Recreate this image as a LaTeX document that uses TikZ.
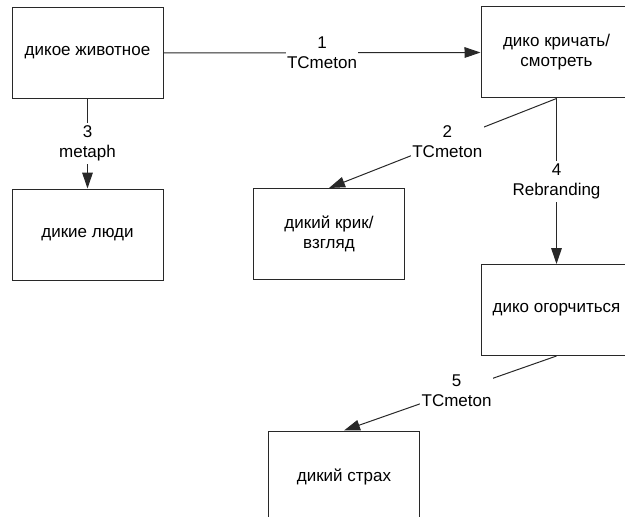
\documentclass[tikz,border=0pt]{standalone}
\usepackage{fontspec}
\setmainfont{Liberation Sans}
\usetikzlibrary{arrows.meta}
\definecolor{ink}{RGB}{40,40,40}
\begin{document}
\begin{tikzpicture}[x=0.75pt,y=-0.75pt,
  box/.style={draw=ink,line width=0.75pt,rectangle,minimum width=113.25pt,minimum height=68.25pt,
    align=center,font=\fontsize{12.75pt}{15pt}\selectfont,inner sep=2pt},
  conn/.style={draw=ink,line width=0.75pt,-{Triangle[length=12pt,width=8pt]}},
  lbl/.style={fill=white,align=center,font=\fontsize{12.75pt}{15pt}\selectfont,inner xsep=1pt,inner ysep=2pt}]
\useasboundingbox (0,0) rectangle (625,517);
% concepts
\node[box] (animal) at (87.5,53) {дикое животное};
\node[box] (shout)  at (556.5,52.5) {дико кричать/\\смотреть};
\node[box] (cry)    at (329,234) {дикий крик/\\взгляд};
\node[box] (people) at (87.5,234.5) {дикие люди};
\node[box] (upset)  at (556.5,310) {дико огорчиться};
\node[box] (fear)   at (344,476.5) {дикий страх};
% transitions
\draw[conn] (animal.east) -- node[lbl]{1\\TCmeton} (shout.west);
\draw[conn] (shout.south) -- node[lbl,pos=0.48]{2\\TCmeton} (cry.north);
\draw[conn] (animal.south) -- node[lbl]{3\\metaph} (people.north);
\draw[conn] (shout.south) -- node[lbl]{4\\Rebranding} (upset.north);
\draw[conn] (upset.south) -- node[lbl,pos=0.47]{5\\TCmeton} (fear.north);
\end{tikzpicture}
\end{document}
